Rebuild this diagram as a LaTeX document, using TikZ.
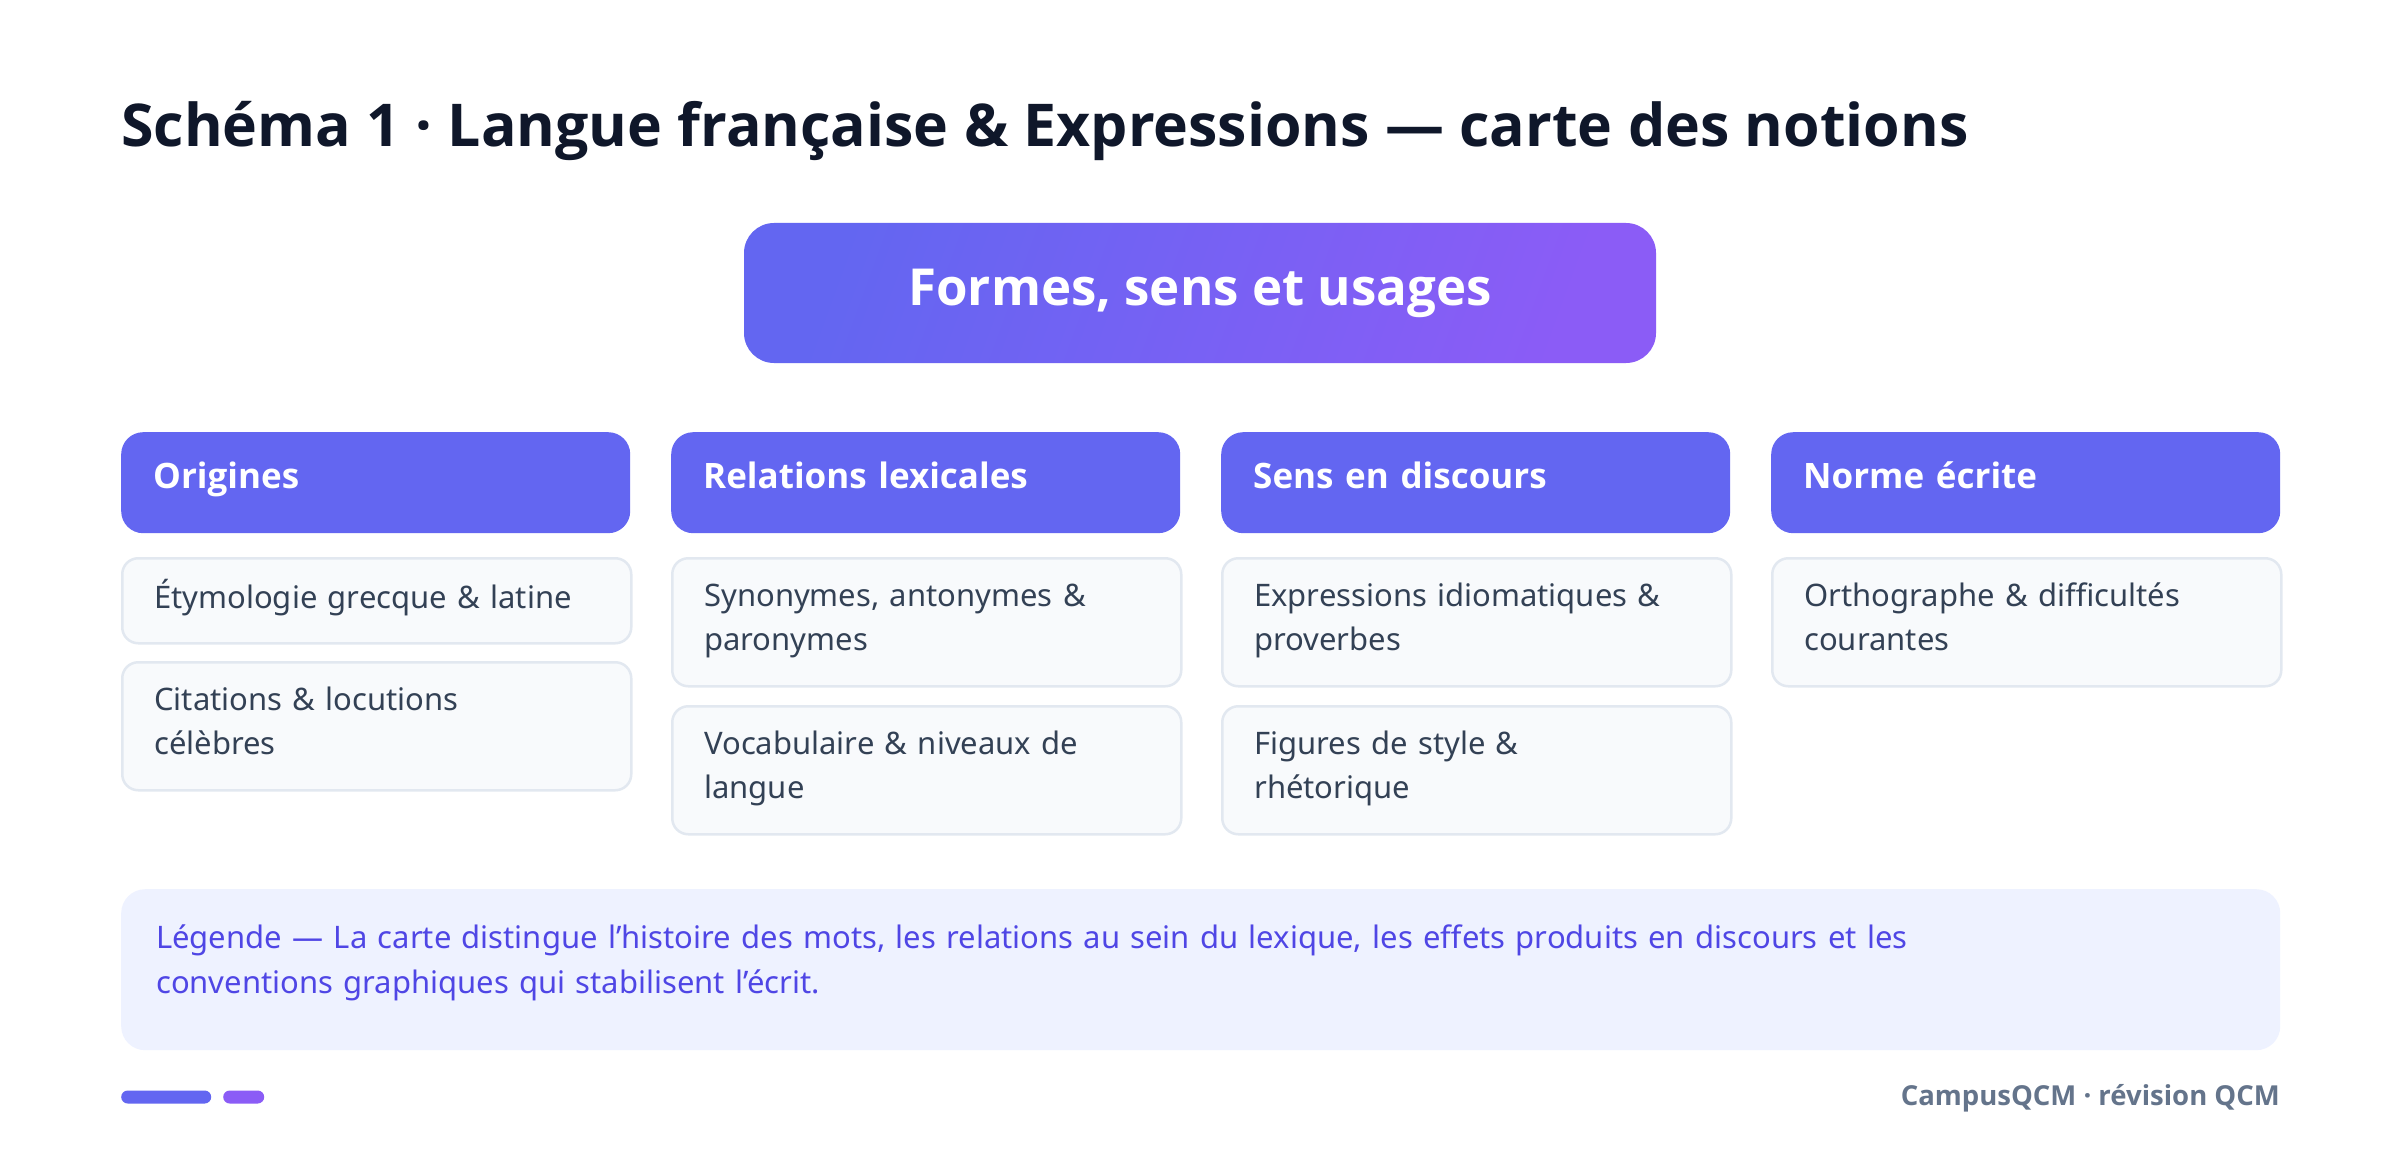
\documentclass[tikz,border=0pt]{standalone}
\usepackage{fontspec}
\setmainfont{Noto Sans}
\IfFontExistsTF{Noto Sans Bold}{\newfontfamily\heavy{Noto Sans Bold}}{%
  \IfFontExistsTF{Open Sans Bold}{\newfontfamily\heavy{Open Sans Bold}}{%
    \IfFontExistsTF{Fira Sans Bold}{\newfontfamily\heavy{Fira Sans Bold}}{%
      \newfontfamily\heavy{Noto Sans}[FakeBold=2.5]}}}
\definecolor{ink}{HTML}{0F172A}
\definecolor{hd}{HTML}{6366F1}
\definecolor{vi}{HTML}{8B5CF6}
\definecolor{itemfill}{HTML}{F8FAFC}
\definecolor{itemline}{HTML}{E2E8F0}
\definecolor{slate}{HTML}{334155}
\definecolor{legfill}{HTML}{EEF2FF}
\definecolor{legtext}{HTML}{4F46E5}
\definecolor{muted}{HTML}{64748B}
\begin{document}
\begin{tikzpicture}[x=1pt,y=-1pt,
  mainbox/.style={rounded corners=30pt, left color=hd, right color=vi, shading angle=70, minimum width=912pt, minimum height=140pt, text=white, font=\fontsize{51}{60}\heavy},
  head/.style={anchor=north west, rounded corners=22pt, fill=hd, text=white, text width=445pt, inner xsep=32pt, inner ysep=0pt, minimum height=101pt, align=left, text height=24pt, text depth=13pt, font=\fontsize{35}{42}\heavy},
  item/.style={anchor=north west, rounded corners=16pt, fill=itemfill, draw=itemline, line width=2.5pt, text=slate, text width=445pt, inner xsep=32pt, inner ysep=0pt, align=left, font=\fontsize{31}{44}\selectfont},
  one/.style={minimum height=85pt, text height=24pt, text depth=8pt},
  two/.style={minimum height=128pt, text height=24pt, text depth=56pt},
  bar/.style={anchor=west, rounded corners=6.5pt, minimum height=13pt, inner sep=0pt}]
\useasboundingbox (0,0) rectangle (2400,1158);
\fill[white] (0,0) rectangle (2400,1158);

\node[anchor=base west, inner sep=0pt, text=ink, font=\fontsize{59}{70}\heavy] (title) at (121,147) {Schéma 1 · Langue française \& Expressions — carte des notions};

\node[mainbox] (root) at (1200,293) {Formes, sens et usages};

\node[head] (h1) at (121,432) {Origines};
\node[head] (h2) at (671,432) {Relations lexicales};
\node[head] (h3) at (1221,432) {Sens en discours};
\node[head] (h4) at (1771,432) {Norme écrite};

\node[item,one] (a1) at (121,557) {Étymologie grecque \& latine};
\node[item,two] (a2) at (121,661) {Citations \& locutions\\célèbres};
\node[item,two] (b1) at (671,557) {Synonymes, antonymes \&\\paronymes};
\node[item,two] (b2) at (671,705) {Vocabulaire \& niveaux de\\langue};
\node[item,two] (c1) at (1221,557) {Expressions idiomatiques \&\\proverbes};
\node[item,two] (c2) at (1221,705) {Figures de style \&\\rhétorique};
\node[item,two] (d1) at (1771,557) {Orthographe \& difficultés\\courantes};

\node[anchor=north west, rounded corners=24pt, fill=legfill, text=legtext, text width=2089pt, inner xsep=35pt, inner ysep=0pt, minimum height=161pt, align=left, text height=24pt, text depth=67pt, font=\fontsize{31}{45}\selectfont] (leg) at (121,889) {Légende — La carte distingue l'histoire des mots, les relations au sein du lexique, les effets produits en discours et les\\conventions graphiques qui stabilisent l'écrit.};

\node[bar, fill=hd, minimum width=90pt] (bar1) at (121,1097) {};
\node[bar, fill=vi, minimum width=41pt] (bar2) at (223,1097) {};

\node[anchor=base east, inner sep=0pt, text=muted, font=\fontsize{27.5}{32}\heavy] (foot) at (2280,1105) {CampusQCM · révision QCM};
\end{tikzpicture}
\end{document}
